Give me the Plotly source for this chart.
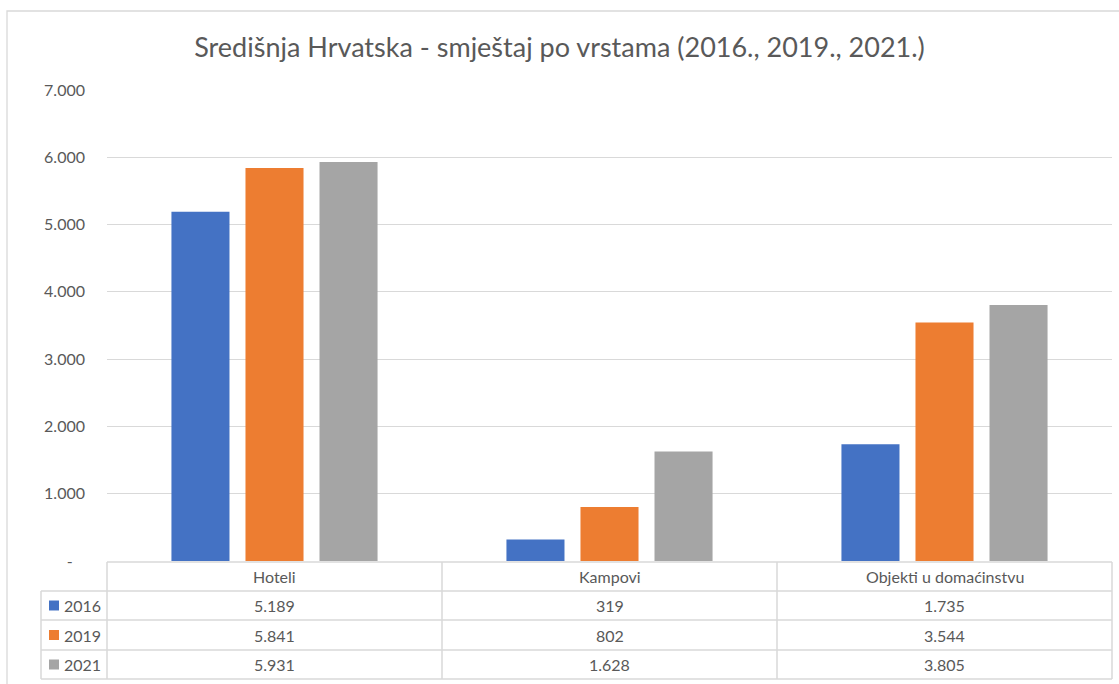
import plotly.graph_objects as go

categories = ["Hoteli", "Kampovi", "Objekti u domaćinstvu"]
years = ["2016", "2019", "2021"]
values_2016 = [5189, 319, 1735]
values_2019 = [5841, 802, 3544]
values_2021 = [5931, 1628, 3805]
colors = ["#4472C4", "#ED7D31", "#A5A5A5"]
y_tickvals = [0, 1000, 2000, 3000, 4000, 5000, 6000, 7000]
y_ticktext = ["-\u00a0\u00a0\u00a0", "1.000", "2.000", "3.000", "4.000", "5.000", "6.000", "7.000"]
title_text = "Središnja Hrvatska - smještaj po vrstama (2016., 2019., 2021.)"

series = [values_2016, values_2019, values_2021]

W, H = 1119, 684
FONT = "Lato"
TXT = "#595959"
LINE = "#d9d9d9"
FS = 16

def px(x):
    return x / W

def py(y):
    return 1 - y / H

def fmt(v):
    return f"{v:,}".replace(",", ".")

fig = go.Figure()
for yr, vals, col in zip(years, series, colors):
    fig.add_trace(go.Bar(x=categories, y=vals, name=yr, marker_color=col,
                         marker_line_width=0, showlegend=False))

plot_left, plot_right = 107, 1112
plot_top, plot_bottom = 90, 561

fig.update_layout(
    width=W, height=H,
    margin=dict(l=0, r=0, t=0, b=0, pad=0, autoexpand=False),
    paper_bgcolor="white", plot_bgcolor="white",
    barmode="group", bargap=0.337, bargroupgap=0.216,
    font=dict(family=FONT, color=TXT, size=FS),
    title=dict(text=title_text, x=0.5, xanchor="center", y=py(48), yanchor="middle",
               font=dict(family=FONT, size=27, color=TXT)),
    xaxis=dict(domain=[px(plot_left), px(plot_right)], showticklabels=False,
               showgrid=False, zeroline=False, showline=False, ticks="",
               automargin=False),
    yaxis=dict(domain=[py(plot_bottom), py(plot_top)], range=[0, 7000],
               tickvals=y_tickvals, ticktext=y_ticktext,
               showgrid=True, gridcolor=LINE, gridwidth=1.3, zeroline=False,
               showline=False, ticks="", ticklabelstandoff=21, automargin=False,
               tickfont=dict(family=FONT, size=FS, color=TXT)),
)

shapes = []
# outer chart border (only top and left edges visible in the crop)
shapes.append(dict(type="rect", xref="paper", yref="paper",
                   x0=px(7), x1=px(1130), y0=py(700), y1=py(11),
                   line=dict(color=LINE, width=1.3), fillcolor="rgba(0,0,0,0)"))
row_y = [562, 591, 620, 650, 679]
col_x = [107, 442, 777, 1112]
def hline(y, x0, x1):
    shapes.append(dict(type="line", xref="paper", yref="paper",
                       x0=px(x0), x1=px(x1), y0=py(y), y1=py(y),
                       line=dict(color=LINE, width=1.5)))
def vline(x, y0, y1):
    shapes.append(dict(type="line", xref="paper", yref="paper",
                       x0=px(x), x1=px(x), y0=py(y0), y1=py(y1),
                       line=dict(color=LINE, width=1.5)))
hline(row_y[0], 107, 1112)
for y in row_y[1:]:
    hline(y, 41, 1112)
for x in col_x:
    vline(x, row_y[0], row_y[-1])
vline(41, row_y[1], row_y[-1])

annotations = []
for c in categories:
    annotations.append(dict(x=c, xref="x", y=py((row_y[0] + row_y[1]) / 2), yref="paper",
                            text=c, showarrow=False, xanchor="center", yanchor="middle",
                            font=dict(family=FONT, size=FS, color=TXT)))
for i, (yr, vals, col) in enumerate(zip(years, series, colors)):
    yc = (row_y[i + 1] + row_y[i + 2]) / 2
    shapes.append(dict(type="rect", xref="paper", yref="paper",
                       x0=px(49), x1=px(59), y0=py(yc + 5), y1=py(yc - 5),
                       line=dict(width=0), fillcolor=col))
    annotations.append(dict(x=px(62), xref="paper", y=py(yc), yref="paper",
                            text=yr, showarrow=False, xanchor="left", yanchor="middle",
                            font=dict(family=FONT, size=FS, color=TXT)))
    for c, v in zip(categories, vals):
        annotations.append(dict(x=c, xref="x", y=py(yc), yref="paper",
                                text=fmt(v), showarrow=False, xanchor="center",
                                yanchor="middle",
                                font=dict(family=FONT, size=FS, color=TXT)))

fig.update_layout(shapes=shapes, annotations=annotations)
post = ("document.body.style.margin='0';document.body.style.overflow='hidden';"
        "var gd=document.getElementById('{plot_id}');"
        "gd.style.position='fixed';gd.style.top='0px';gd.style.left='0px';")
fig.write_html("out.html", config={"displayModeBar": False}, post_script=post)
